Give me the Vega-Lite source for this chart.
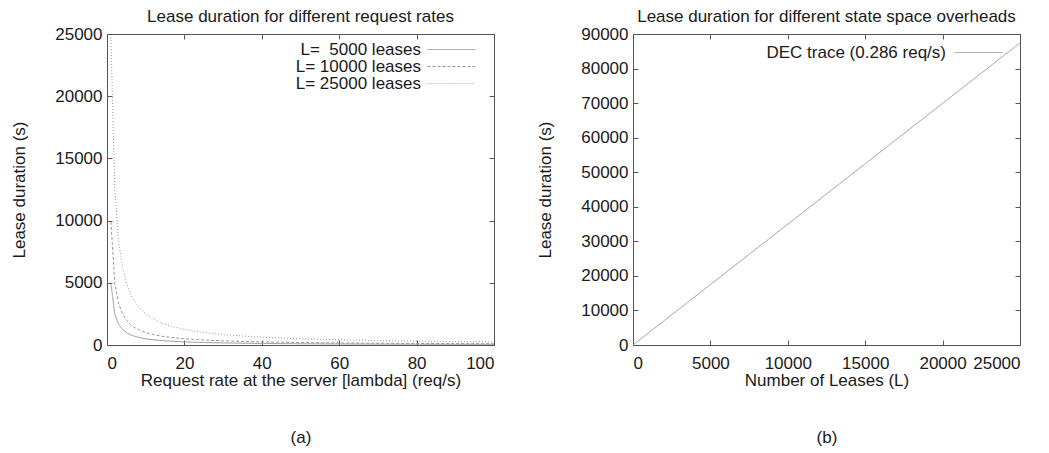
{
  "$schema": "https://vega.github.io/schema/vega-lite/v6.json",
  "background": "white",
  "padding": {"left": 10, "top": 7, "right": 0, "bottom": 0},
  "autosize": {"type": "pad"},
  "spacing": 38,
  "resolve": {"scale": {"strokeDash": "independent"}, "legend": {"strokeDash": "independent"}},
  "config": {
    "font": "Liberation Sans",
    "view": {"stroke": "#555", "strokeWidth": 1},
    "axis": {
      "domain": false, "grid": false, "tickSize": -5, "tickColor": "#555", "tickWidth": 1,
      "labelFont": "Liberation Sans", "labelFontSize": 17, "labelColor": "#1a1a1a", "labelPadding": 10,
      "titleFont": "Liberation Sans", "titleFontSize": 17, "titleFontWeight": "normal", "titleColor": "#1a1a1a"
    },
    "axisBottom": {"labelPadding": 15, "titlePadding": 1, "titleLineHeight": 57},
    "axisLeft": {"titlePadding": 26},
    "title": {"font": "Liberation Sans", "fontSize": 17, "fontWeight": "normal", "color": "#1a1a1a", "offset": -1},
    "legend": {"labelFont": "Liberation Sans"}
  },
  "datasets": {
    "rates": [
      {"series": "L=\u00a0\u00a05000 leases", "lambda": 1.01, "duration": 4950},
      {"series": "L=\u00a0\u00a05000 leases", "lambda": 2.02, "duration": 2475},
      {"series": "L=\u00a0\u00a05000 leases", "lambda": 3.03, "duration": 1650},
      {"series": "L=\u00a0\u00a05000 leases", "lambda": 4.04, "duration": 1238},
      {"series": "L=\u00a0\u00a05000 leases", "lambda": 5.05, "duration": 990},
      {"series": "L=\u00a0\u00a05000 leases", "lambda": 6.06, "duration": 825},
      {"series": "L=\u00a0\u00a05000 leases", "lambda": 7.07, "duration": 707},
      {"series": "L=\u00a0\u00a05000 leases", "lambda": 8.08, "duration": 619},
      {"series": "L=\u00a0\u00a05000 leases", "lambda": 9.09, "duration": 550},
      {"series": "L=\u00a0\u00a05000 leases", "lambda": 10.1, "duration": 495},
      {"series": "L=\u00a0\u00a05000 leases", "lambda": 12.12, "duration": 413},
      {"series": "L=\u00a0\u00a05000 leases", "lambda": 14.14, "duration": 354},
      {"series": "L=\u00a0\u00a05000 leases", "lambda": 16.16, "duration": 309},
      {"series": "L=\u00a0\u00a05000 leases", "lambda": 20.2, "duration": 248},
      {"series": "L=\u00a0\u00a05000 leases", "lambda": 25.25, "duration": 198},
      {"series": "L=\u00a0\u00a05000 leases", "lambda": 30.3, "duration": 165},
      {"series": "L=\u00a0\u00a05000 leases", "lambda": 40.4, "duration": 124},
      {"series": "L=\u00a0\u00a05000 leases", "lambda": 50.5, "duration": 99},
      {"series": "L=\u00a0\u00a05000 leases", "lambda": 60.6, "duration": 83},
      {"series": "L=\u00a0\u00a05000 leases", "lambda": 70.7, "duration": 71},
      {"series": "L=\u00a0\u00a05000 leases", "lambda": 80.8, "duration": 62},
      {"series": "L=\u00a0\u00a05000 leases", "lambda": 90.9, "duration": 55},
      {"series": "L=\u00a0\u00a05000 leases", "lambda": 100, "duration": 50},
      {"series": "L= 10000 leases", "lambda": 1.01, "duration": 9900},
      {"series": "L= 10000 leases", "lambda": 2.02, "duration": 4950},
      {"series": "L= 10000 leases", "lambda": 3.03, "duration": 3300},
      {"series": "L= 10000 leases", "lambda": 4.04, "duration": 2475},
      {"series": "L= 10000 leases", "lambda": 5.05, "duration": 1980},
      {"series": "L= 10000 leases", "lambda": 6.06, "duration": 1650},
      {"series": "L= 10000 leases", "lambda": 7.07, "duration": 1414},
      {"series": "L= 10000 leases", "lambda": 8.08, "duration": 1238},
      {"series": "L= 10000 leases", "lambda": 9.09, "duration": 1100},
      {"series": "L= 10000 leases", "lambda": 10.1, "duration": 990},
      {"series": "L= 10000 leases", "lambda": 12.12, "duration": 825},
      {"series": "L= 10000 leases", "lambda": 14.14, "duration": 707},
      {"series": "L= 10000 leases", "lambda": 16.16, "duration": 619},
      {"series": "L= 10000 leases", "lambda": 20.2, "duration": 495},
      {"series": "L= 10000 leases", "lambda": 25.25, "duration": 396},
      {"series": "L= 10000 leases", "lambda": 30.3, "duration": 330},
      {"series": "L= 10000 leases", "lambda": 40.4, "duration": 248},
      {"series": "L= 10000 leases", "lambda": 50.5, "duration": 198},
      {"series": "L= 10000 leases", "lambda": 60.6, "duration": 165},
      {"series": "L= 10000 leases", "lambda": 70.7, "duration": 141},
      {"series": "L= 10000 leases", "lambda": 80.8, "duration": 124},
      {"series": "L= 10000 leases", "lambda": 90.9, "duration": 110},
      {"series": "L= 10000 leases", "lambda": 100, "duration": 100},
      {"series": "L= 25000 leases", "lambda": 1.01, "duration": 24750},
      {"series": "L= 25000 leases", "lambda": 2.02, "duration": 12376},
      {"series": "L= 25000 leases", "lambda": 3.03, "duration": 8250},
      {"series": "L= 25000 leases", "lambda": 4.04, "duration": 6188},
      {"series": "L= 25000 leases", "lambda": 5.05, "duration": 4950},
      {"series": "L= 25000 leases", "lambda": 6.06, "duration": 4125},
      {"series": "L= 25000 leases", "lambda": 7.07, "duration": 3536},
      {"series": "L= 25000 leases", "lambda": 8.08, "duration": 3094},
      {"series": "L= 25000 leases", "lambda": 9.09, "duration": 2750},
      {"series": "L= 25000 leases", "lambda": 10.1, "duration": 2475},
      {"series": "L= 25000 leases", "lambda": 12.12, "duration": 2063},
      {"series": "L= 25000 leases", "lambda": 14.14, "duration": 1768},
      {"series": "L= 25000 leases", "lambda": 16.16, "duration": 1547},
      {"series": "L= 25000 leases", "lambda": 20.2, "duration": 1238},
      {"series": "L= 25000 leases", "lambda": 25.25, "duration": 990},
      {"series": "L= 25000 leases", "lambda": 30.3, "duration": 825},
      {"series": "L= 25000 leases", "lambda": 40.4, "duration": 619},
      {"series": "L= 25000 leases", "lambda": 50.5, "duration": 495},
      {"series": "L= 25000 leases", "lambda": 60.6, "duration": 413},
      {"series": "L= 25000 leases", "lambda": 70.7, "duration": 354},
      {"series": "L= 25000 leases", "lambda": 80.8, "duration": 309},
      {"series": "L= 25000 leases", "lambda": 90.9, "duration": 275},
      {"series": "L= 25000 leases", "lambda": 100, "duration": 250}
    ],
    "dec": [
      {"series": "DEC trace (0.286 req/s)", "leases": 0, "duration": 0},
      {"series": "DEC trace (0.286 req/s)", "leases": 5000, "duration": 17483},
      {"series": "DEC trace (0.286 req/s)", "leases": 10000, "duration": 34965},
      {"series": "DEC trace (0.286 req/s)", "leases": 15000, "duration": 52448},
      {"series": "DEC trace (0.286 req/s)", "leases": 20000, "duration": 69930},
      {"series": "DEC trace (0.286 req/s)", "leases": 25000, "duration": 87413}
    ]
  },
  "hconcat": [
    {
      "width": 387,
      "height": 311,
      "title": "Lease duration for different request rates",
      "data": {"name": "rates"},
      "layer": [
        {
          "mark": {"type": "line", "color": "#999", "strokeWidth": 1},
          "encoding": {
            "x": {"field": "lambda", "type": "quantitative", "scale": {"domain": [0, 100], "nice": false, "zero": false},
              "axis": {"orient": "bottom", "values": [0, 20, 40, 60, 80, 100], "title": ["Request rate at the server [lambda] (req/s)", "(a)"]}},
            "y": {"field": "duration", "type": "quantitative", "scale": {"domain": [0, 25000], "nice": false},
              "axis": {"orient": "left", "values": [0, 5000, 10000, 15000, 20000, 25000], "format": "d", "title": "Lease duration (s)"}},
            "strokeDash": {"field": "series", "type": "nominal",
              "scale": {"domain": ["L=\u00a0\u00a05000 leases", "L= 10000 leases", "L= 25000 leases"], "range": [[1, 0], [3, 2], [1, 2]]},
              "legend": {"orient": "none", "legendX": 312, "legendY": 7, "title": null, "symbolType": "M0,0H8", "symbolSize": 144, "symbolStrokeWidth": 1, "symbolStrokeColor": "#999", "symbolFillColor": "transparent", "labelAlign": "right", "labelOffset": -15, "labelFontSize": 17, "labelColor": "#1a1a1a", "labelLimit": 300, "padding": 0, "rowPadding": -1}}
          }
        },
        {
          "mark": {"type": "point", "opacity": 0},
          "encoding": {
            "x": {"field": "lambda", "type": "quantitative", "scale": {"domain": [0, 100], "nice": false, "zero": false}, "axis": {"orient": "top", "values": [0, 20, 40, 60, 80, 100], "labels": false, "title": null}},
            "y": {"field": "duration", "type": "quantitative", "scale": {"domain": [0, 25000], "nice": false}, "axis": {"orient": "right", "values": [0, 5000, 10000, 15000, 20000, 25000], "labels": false, "title": null}}
          }
        }
      ],
      "resolve": {"axis": {"x": "independent", "y": "independent"}}
    },
    {
      "width": 387,
      "height": 311,
      "title": "Lease duration for different state space overheads",
      "data": {"name": "dec"},
      "layer": [
        {
          "mark": {"type": "line", "color": "#999", "strokeWidth": 1},
          "encoding": {
            "x": {"field": "leases", "type": "quantitative", "scale": {"domain": [0, 25000], "nice": false},
              "axis": {"orient": "bottom", "values": [0, 5000, 10000, 15000, 20000, 25000], "format": "d", "title": ["Number of Leases (L)", "(b)"]}},
            "y": {"field": "duration", "type": "quantitative", "scale": {"domain": [0, 90000], "nice": false},
              "axis": {"orient": "left", "values": [0, 10000, 20000, 30000, 40000, 50000, 60000, 70000, 80000, 90000], "format": "d", "title": "Lease duration (s)"}},
            "strokeDash": {"field": "series", "type": "nominal",
              "scale": {"domain": ["DEC trace (0.286 req/s)"], "range": [[1, 0]]},
              "legend": {"orient": "none", "legendX": 313, "legendY": 10, "title": null, "symbolType": "M0,0H8", "symbolSize": 144, "symbolStrokeWidth": 1, "symbolStrokeColor": "#999", "symbolFillColor": "transparent", "labelAlign": "right", "labelOffset": -17, "labelFontSize": 17, "labelColor": "#1a1a1a", "labelLimit": 300, "padding": 0, "rowPadding": 0}}
          }
        },
        {
          "mark": {"type": "point", "opacity": 0},
          "encoding": {
            "x": {"field": "leases", "type": "quantitative", "scale": {"domain": [0, 25000], "nice": false}, "axis": {"orient": "top", "values": [0, 5000, 10000, 15000, 20000, 25000], "labels": false, "title": null}},
            "y": {"field": "duration", "type": "quantitative", "scale": {"domain": [0, 90000], "nice": false}, "axis": {"orient": "right", "values": [0, 10000, 20000, 30000, 40000, 50000, 60000, 70000, 80000, 90000], "labels": false, "title": null}}
          }
        }
      ],
      "resolve": {"axis": {"x": "independent", "y": "independent"}}
    }
  ]
}
